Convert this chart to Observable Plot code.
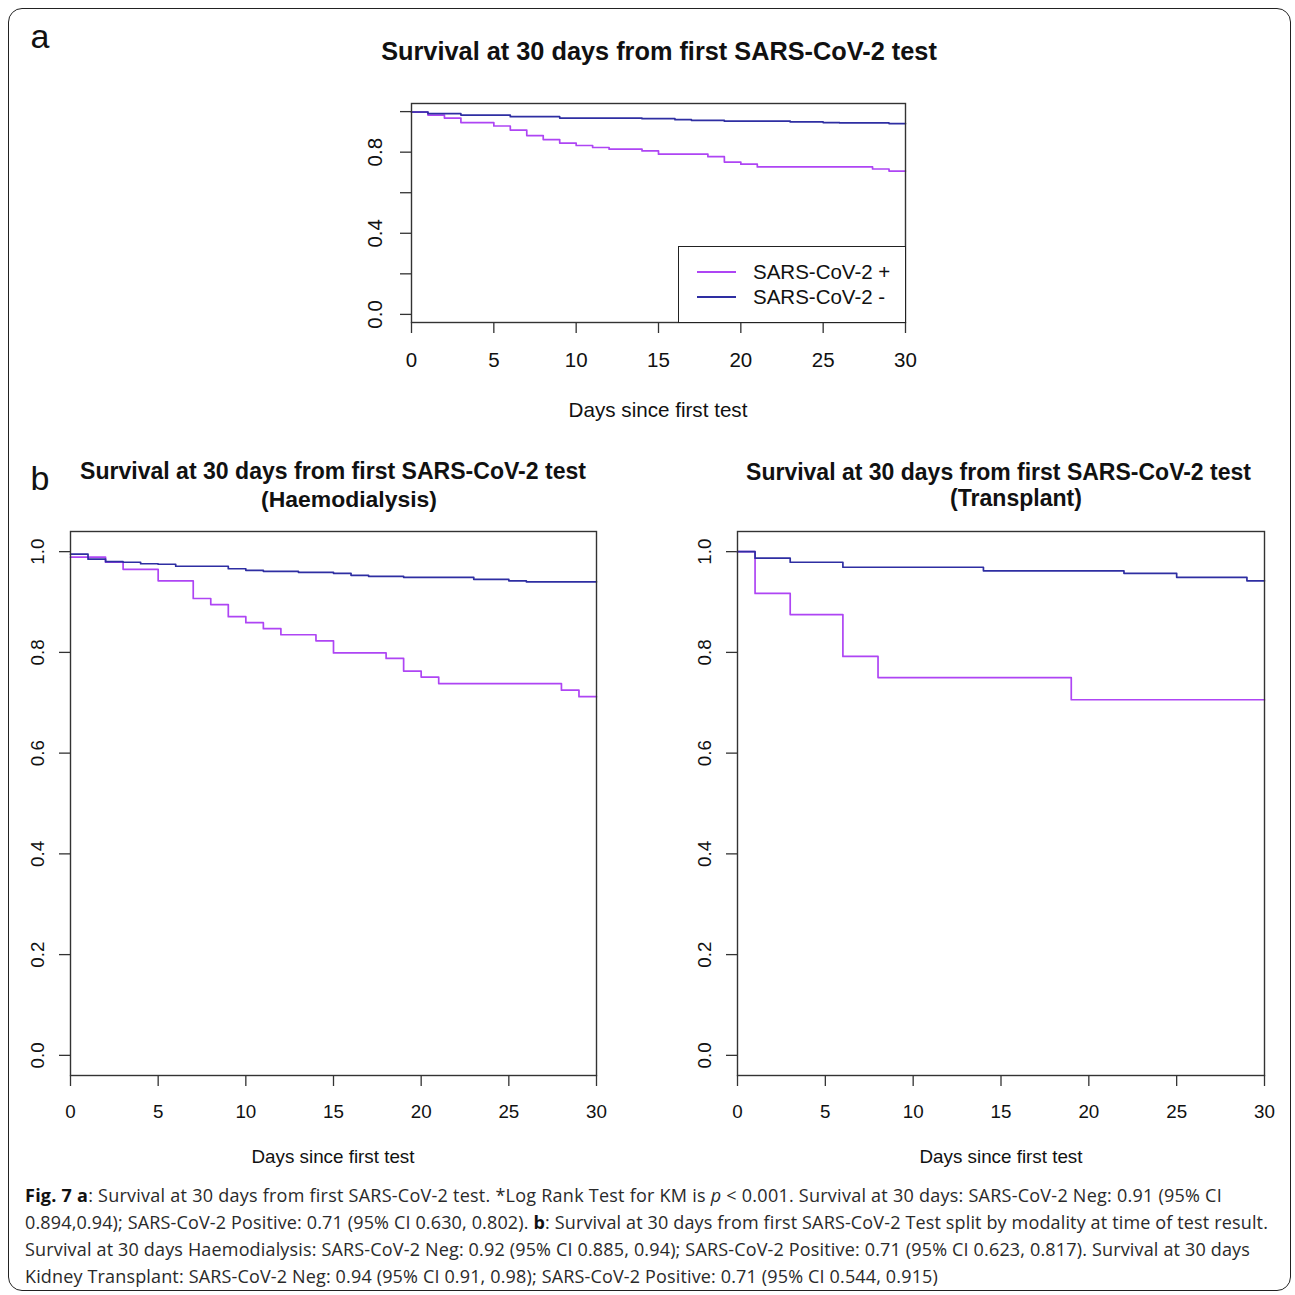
<!DOCTYPE html>
<html><head><meta charset="utf-8">
<script src="https://cdn.jsdelivr.net/npm/d3@7"></script>
<script src="https://cdn.jsdelivr.net/npm/@observablehq/plot@0.6"></script>
<style>
body{margin:0;background:#fff;}
#page{position:relative;width:1295px;height:1295px;overflow:hidden;font-family:"Liberation Sans",Arial,sans-serif;color:#111;background:#fff;}
.abs{position:absolute;white-space:nowrap;line-height:1;}
.c{transform:translate(-50%,-50%);}
#border{position:absolute;left:8px;top:8px;width:1283px;height:1283px;border:1.5px solid #222;border-radius:14px;box-sizing:border-box;}
.cap{position:absolute;left:25px;white-space:nowrap;line-height:1;font-family:"Open Sans","Noto Sans",sans-serif;font-size:18px;color:#2a2a2a;transform:translateY(-50%);}
.cap b{color:#111;}
.legend{position:absolute;background:#fff;border:1.4px solid #222;box-sizing:border-box;}
</style></head><body><div id="page"><div id="border"></div></div>
<script>
// ---------- data ----------
const seriesNames = ["SARS-CoV-2 +", "SARS-CoV-2 -"];
const xTicks = [0, 5, 10, 15, 20, 25, 30];
const yTicks = [0, 0.2, 0.4, 0.6, 0.8, 1.0];
const yLabelsA = [0, 0.4, 0.8];
const yLabelsB = [0, 0.2, 0.4, 0.6, 0.8, 1.0];
const xTitle = "Days since first test";
const titleA = "Survival at 30 days from first SARS-CoV-2 test";
const titleB1 = ["Survival at 30 days from first SARS-CoV-2 test", "(Haemodialysis)"];
const titleB2 = ["Survival at 30 days from first SARS-CoV-2 test", "(Transplant)"];

// Panel a: all patients
const aPosDays = [0, 1, 2, 3, 5, 6, 7, 8, 9, 10, 11, 12, 14, 15, 18, 19, 20, 21, 28, 29, 30];
const aPosSurv = [0.997, 0.983, 0.968, 0.946, 0.929, 0.909, 0.882, 0.862, 0.845, 0.833, 0.823, 0.815, 0.806, 0.790, 0.778, 0.751, 0.741, 0.727, 0.717, 0.707, 0.707];
const aNegDays = [0, 1, 3, 6, 9, 14, 16, 17, 19, 23, 25, 26, 29, 30];
const aNegSurv = [0.998, 0.990, 0.983, 0.975, 0.968, 0.965, 0.960, 0.957, 0.953, 0.949, 0.946, 0.944, 0.941, 0.941];

// Panel b: haemodialysis
const hdPosDays = [0, 2, 3, 5, 7, 8, 9, 10, 11, 12, 14, 15, 18, 19, 20, 21, 28, 29, 30];
const hdPosSurv = [0.989, 0.979, 0.965, 0.942, 0.907, 0.895, 0.871, 0.859, 0.847, 0.835, 0.823, 0.799, 0.788, 0.763, 0.751, 0.738, 0.725, 0.712, 0.712];
const hdNegDays = [0, 1, 2, 3, 4, 5, 6, 9, 10, 11, 13, 15, 16, 17, 19, 23, 25, 26, 30];
const hdNegSurv = [0.995, 0.985, 0.980, 0.979, 0.976, 0.975, 0.971, 0.966, 0.963, 0.961, 0.959, 0.957, 0.953, 0.951, 0.949, 0.945, 0.942, 0.940, 0.940];

// Panel b: transplant
const txPosDays = [0, 1, 3, 6, 8, 19, 30];
const txPosSurv = [1.0, 0.917, 0.875, 0.792, 0.750, 0.706, 0.706];
const txNegDays = [0, 1, 3, 6, 14, 22, 25, 29, 30];
const txNegSurv = [1.0, 0.987, 0.979, 0.969, 0.962, 0.957, 0.949, 0.942, 0.942];

const captionLines = [
  '<b>Fig. 7 a</b>: Survival at 30 days from first SARS-CoV-2 test. *Log Rank Test for KM is <i>p</i> &lt; 0.001. Survival at 30 days: SARS-CoV-2 Neg: 0.91 (95% CI',
  '0.894,0.94); SARS-CoV-2 Positive: 0.71 (95% CI 0.630, 0.802). <b>b</b>: Survival at 30 days from first SARS-CoV-2 Test split by modality at time of test result.',
  'Survival at 30 days Haemodialysis: SARS-CoV-2 Neg: 0.92 (95% CI 0.885, 0.94); SARS-CoV-2 Positive: 0.71 (95% CI 0.623, 0.817). Survival at 30 days',
  'Kidney Transplant: SARS-CoV-2 Neg: 0.94 (95% CI 0.91, 0.98); SARS-CoV-2 Positive: 0.71 (95% CI 0.544, 0.915)'
];

// ---------- styles ----------
const colors = ["#ae45f4", "#2e2ea2"];
const page = document.getElementById("page");

function toRows(days, surv, name) {
  return days.map((t, i) => ({t, s: surv[i], series: name}));
}

function addText(html, cx, cy, opts = {}) {
  const d = document.createElement("div");
  d.className = "abs c";
  d.innerHTML = html;
  d.style.left = cx + "px";
  d.style.top = cy + "px";
  d.style.fontSize = (opts.size || 20) + "px";
  if (opts.bold) d.style.fontWeight = "bold";
  page.appendChild(d);
  if (opts.width) {
    const w = d.getBoundingClientRect().width;
    d.style.fontSize = ((opts.size || 20) * opts.width / w) + "px";
  }
  return d;
}

function panel(cfg) {
  const ml = 60, mr = 15, mt = 10, mb = 50;
  const rows = [
    ...toRows(cfg.posDays, cfg.posSurv, seriesNames[0]),
    ...toRows(cfg.negDays, cfg.negSurv, seriesNames[1])
  ];
  const svg = Plot.plot({
    width: ml + cfg.w + mr,
    height: mt + cfg.h + mb,
    marginLeft: ml, marginRight: mr, marginTop: mt, marginBottom: mb,
    x: {domain: [0, 30], axis: null},
    y: {domain: [-0.04, 1.04], axis: null},
    color: {domain: seriesNames, range: colors},
    style: {fontSize: cfg.font + "px", fontFamily: '"Liberation Sans", Arial, sans-serif', color: "#111", background: "transparent", overflow: "visible"},
    marks: [
      Plot.axisX(xTicks, {tickSize: 11, tickPadding: cfg.xPad, stroke: "#333", strokeWidth: 1.3, fill: "#111", label: null, fontSize: cfg.font}),
      Plot.axisY(yTicks, {tickSize: 11, tickFormat: () => "", stroke: "#333", strokeWidth: 1.3, label: null}),
      Plot.text(cfg.yLabels, {y: d => d, frameAnchor: "left", textAnchor: "middle", lineAnchor: "middle", dx: -cfg.yOff, rotate: -90, text: d => d.toFixed(1), fill: "#111", fontSize: cfg.font}),
      Plot.line(rows, {x: "t", y: "s", z: "series", stroke: "series", curve: "step-after", strokeWidth: 1.7}),
      Plot.frame({stroke: "#333", strokeWidth: 1.4})
    ]
  });
  svg.style.position = "absolute";
  svg.style.left = (cfg.left - ml) + "px";
  svg.style.top = (cfg.top - mt) + "px";
  page.appendChild(svg);
}

// Panel a
panel({left: 411, top: 103, w: 494, h: 219, posDays: aPosDays, posSurv: aPosSurv, negDays: aNegDays, negSurv: aNegSurv,
  yLabels: yLabelsA, yOff: 36, font: 20.5, xPad: 19});
// Panel b left
panel({left: 70, top: 531, w: 526, h: 544, posDays: hdPosDays, posSurv: hdPosSurv, negDays: hdNegDays, negSurv: hdNegSurv,
  yLabels: yLabelsB, yOff: 33, font: 18.8, xPad: 18});
// Panel b right
panel({left: 737, top: 531, w: 527, h: 544, posDays: txPosDays, posSurv: txPosSurv, negDays: txNegDays, negSurv: txNegSurv,
  yLabels: yLabelsB, yOff: 33, font: 18.8, xPad: 18});

// Legend (panel a)
const lg = document.createElement("div");
lg.className = "legend";
lg.style.left = "678px"; lg.style.top = "246px"; lg.style.width = "228px"; lg.style.height = "77px";
page.appendChild(lg);
seriesNames.forEach((name, i) => {
  const y = 272 + i * 25;
  const sw = document.createElement("div");
  sw.style.cssText = `position:absolute;left:697px;top:${y - 1}px;width:39px;height:2px;background:${colors[i]};`;
  page.appendChild(sw);
  const t = document.createElement("div");
  t.className = "abs";
  t.textContent = name;
  t.style.cssText += `left:753px;top:${y}px;font-size:20.5px;transform:translateY(-50%);`;
  page.appendChild(t);
});

// Letters and titles
addText("a", 40, 36, {size: 34});
addText("b", 40, 478, {size: 34});
addText(titleA, 659, 52, {size: 22, bold: true, width: 556});
addText(titleB1[0], 333, 472, {size: 22, bold: true, width: 506});
addText(titleB1[1], 349, 499, {size: 22, bold: true, width: 176});
addText(titleB2[0], 998.5, 472, {size: 22, bold: true, width: 505});
addText(titleB2[1], 1016, 499, {size: 22, bold: true, width: 132});
addText(xTitle, 658, 410, {size: 20.5, width: 179});
addText(xTitle, 333, 1157, {size: 18.8, width: 163});
addText(xTitle, 1001, 1157, {size: 18.8, width: 163});

// Caption
const capEnds = [1222, 1268, 1250, 938];
captionLines.forEach((html, i) => {
  const d = document.createElement("div");
  d.className = "cap";
  d.innerHTML = html;
  d.style.top = (1195 + i * 27) + "px";
  page.appendChild(d);
  const w = d.getBoundingClientRect().width;
  const n = d.textContent.length;
  d.style.letterSpacing = ((capEnds[i] - 25 - w) / n) + "px";
});
</script></body></html>
